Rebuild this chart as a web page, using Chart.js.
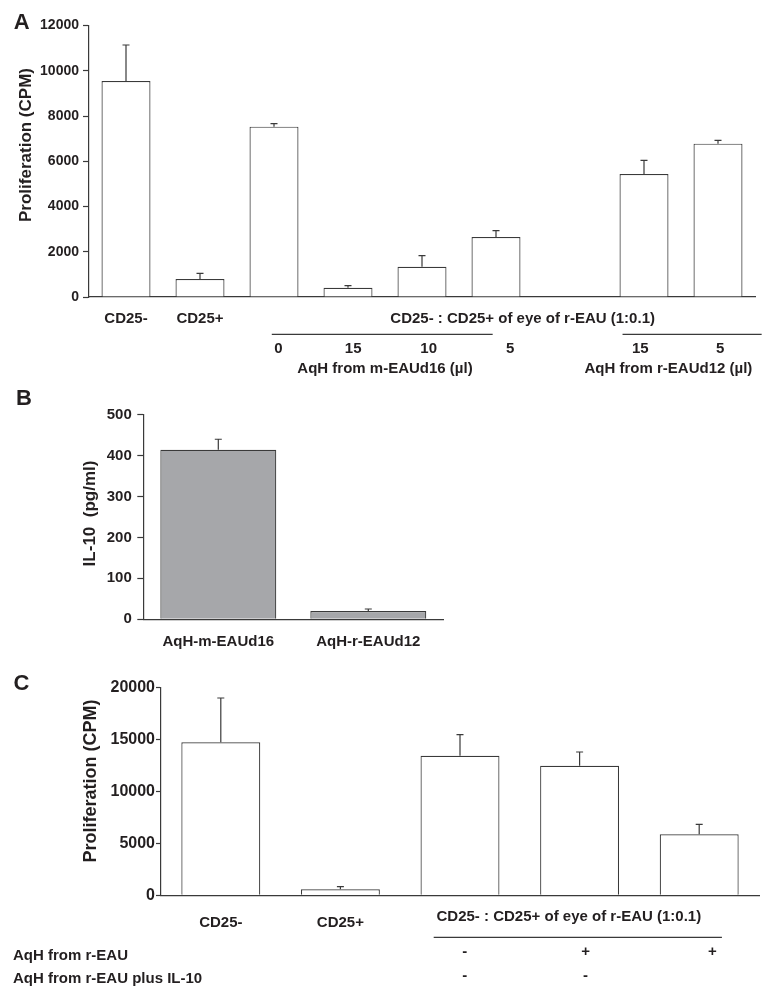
<!DOCTYPE html>
<html>
<head>
<meta charset="utf-8">
<script src="https://cdn.jsdelivr.net/npm/chart.js@4.4.1/dist/chart.umd.min.js"></script>
<style>
  html, body { margin: 0; padding: 0; background: #fff; }
  canvas { position: absolute; left: 0; }
</style>
</head>
<body>
<canvas id="chartA" width="778" height="385" style="top:0"></canvas>
<canvas id="chartB" width="778" height="275" style="top:385px"></canvas>
<canvas id="chartC" width="778" height="338" style="top:660px"></canvas>
<script>
// ---- data: panel A (proliferation, CPM) ----
const categoriesA = ['CD25-', 'CD25+', '0', '15', '10', '5', '', '15', '5'];
const valuesA = [9549, 796, 7529, 411, 1340, 2653, null, 5438, 6777];
const errorsA = [1590, 250, 130, 90, 485, 280, null, 605, 150];
const ticksA = [0, 2000, 4000, 6000, 8000, 10000, 12000];

// ---- data: panel B (IL-10, pg/ml) ----
const categoriesB = ['AqH-m-EAUd16', 'AqH-r-EAUd12'];
const valuesB = [414, 20];
const errorsB = [26, 5];
const ticksB = [0, 100, 200, 300, 400, 500];

// ---- data: panel C (proliferation, CPM) ----
const categoriesC = ['CD25-', 'CD25+', '', '', ''];
const valuesC = [14740, 578, 13449, 12486, 5877];
const errorsC = [4267, 252, 2023, 1319, 963];
const aqhRowC = ['', '', '-', '+', '+'];
const il10RowC = ['', '', '-', '-', ''];
const ticksC = [0, 5000, 10000, 15000, 20000];

const FONT = "'Liberation Sans', Arial, sans-serif";
const INK = '#231f20';
const EDGE = '#3a3a3a';

// draws the upper half of each error bar with a small cap
const errorBars = {
  id: 'errorBars',
  afterDatasetsDraw(chart) {
    const ctx = chart.ctx;
    const y = chart.scales.y;
    chart.data.datasets.forEach((ds, di) => {
      chart.getDatasetMeta(di).data.forEach((bar, i) => {
        const v = ds.data[i];
        const e = ds.errors ? ds.errors[i] : null;
        if (v == null || !e) return;
        const top = y.getPixelForValue(v + e);
        ctx.save();
        ctx.strokeStyle = EDGE;
        ctx.lineWidth = 1.2;
        ctx.beginPath();
        ctx.moveTo(bar.x, bar.y);
        ctx.lineTo(bar.x, top);
        ctx.moveTo(bar.x - 3.5, top);
        ctx.lineTo(bar.x + 3.5, top);
        ctx.stroke();
        ctx.restore();
      });
    });
  }
};

// free text and rules; 'at' is a category position, dy is distance below the x axis
function textLayer(items) {
  return {
    id: 'textLayer',
    afterDraw(chart) {
      const ctx = chart.ctx;
      const x = chart.scales.x;
      const base = chart.chartArea.bottom;
      ctx.save();
      ctx.fillStyle = INK;
      ctx.strokeStyle = EDGE;
      items.forEach(it => {
        const yy = it.dy !== undefined ? base + it.dy : it.py;
        if (it.line) {
          ctx.lineWidth = 1.2;
          ctx.beginPath();
          ctx.moveTo(x.getPixelForValue(it.line[0]), yy);
          ctx.lineTo(x.getPixelForValue(it.line[1]), yy);
          ctx.stroke();
          return;
        }
        const xx = it.at !== undefined ? x.getPixelForValue(it.at) : it.px;
        ctx.font = 'bold ' + (it.size || 15) + 'px ' + FONT;
        ctx.textAlign = it.align || 'center';
        ctx.textBaseline = 'middle';
        if (it.rotate) {
          ctx.save();
          ctx.translate(xx, yy);
          ctx.rotate(-Math.PI / 2);
          ctx.fillText(it.text, 0, 0);
          ctx.restore();
        } else {
          ctx.fillText(it.text, xx, yy);
        }
      });
      ctx.restore();
    }
  };
}

function makeChart(id, p) {
  return new Chart(document.getElementById(id), {
    type: 'bar',
    data: {
      labels: p.labels,
      datasets: [{
        data: p.values,
        errors: p.errors,
        backgroundColor: p.fill,
        borderColor: EDGE,
        borderWidth: 1.2,
        categoryPercentage: 1,
        barPercentage: p.barPct
      }]
    },
    plugins: [errorBars, textLayer(p.notes)],
    options: {
      responsive: false,
      animation: false,
      layout: { padding: p.padding },
      plugins: {
        legend: { display: false },
        tooltip: { enabled: false }
      },
      scales: {
        x: {
          afterFit: s => { s.height = p.xHeight; },
          grid: { display: false, drawTicks: false },
          border: { display: true, color: EDGE, width: 1.2 },
          ticks: {
            color: INK,
            autoSkip: false,
            maxRotation: 0,
            padding: p.xPad,
            font: { family: FONT, size: 15, weight: 'bold' },
            callback: (v, i) => p.tickText[i]
          }
        },
        y: {
          min: 0,
          max: p.yTicks[p.yTicks.length - 1],
          afterBuildTicks: s => { s.ticks = p.yTicks.map(v => ({ value: v })); },
          afterFit: s => { s.width = p.yWidth; },
          grid: { display: true, drawOnChartArea: false, drawTicks: true, tickLength: p.tickLen, color: EDGE, tickColor: EDGE, tickWidth: 1.2 },
          border: { display: true, color: EDGE, width: 1.2 },
          ticks: {
            color: INK,
            padding: p.yPad,
            font: { family: FONT, size: p.yFont, weight: 'bold' },
            callback: v => String(v)
          }
        }
      }
    }
  });
}

// ---- panel A ----
const doseAtA = [null, null, 2.06, 3.07, 4.09, 5.19, null, 6.95, 8.03];
const notesA = [
  { text: 'A', px: 21.7, py: 22.5, size: 22 },
  { text: 'Proliferation (CPM)', px: 26, py: 145, size: 17, rotate: true },
  { text: 'CD25- : CD25+ of eye of r-EAU (1:0.1)', at: 5.36, dy: 21.5 },
  { line: [1.97, 4.955], dy: 37.3 },
  { line: [6.71, 8.59], dy: 37.3 },
  { text: 'AqH from m-EAUd16 (\u00b5l)', at: 3.5, dy: 71.7 },
  { text: 'AqH from r-EAUd12 (\u00b5l)', at: 7.33, dy: 71.7 }
];
categoriesA.forEach((c, i) => {
  if (doseAtA[i] !== null && c) notesA.push({ text: c, at: doseAtA[i], dy: 51.5 });
});

makeChart('chartA', {
  labels: categoriesA,
  values: valuesA,
  errors: errorsA,
  fill: '#ffffff',
  barPct: 0.662,
  padding: { top: 25.5, left: 0, right: 23, bottom: 43 },
  xHeight: 45,
  tickText: categoriesA.map((c, i) => i < 2 ? c : ''),
  xPad: 12.5,
  yTicks: ticksA,
  yWidth: 89,
  yFont: 14,
  tickLen: 6,
  yPad: 4,
  notes: notesA
});

// ---- panel B ----
makeChart('chartB', {
  labels: categoriesB,
  values: valuesB,
  errors: errorsB,
  fill: '#a6a7aa',
  barPct: 0.773,
  padding: { top: 29.7, left: 0, right: 334.7, bottom: 0 },
  xHeight: 40.8,
  tickText: categoriesB,
  xPad: 13.8,
  yTicks: ticksB,
  yWidth: 143.3,
  yFont: 15,
  tickLen: 6,
  yPad: 5.5,
  notes: [
    { text: 'B', px: 24, py: 13.5, size: 22 },
    { text: 'IL-10  (pg/ml)', px: 90, py: 128.5, size: 17, rotate: true }
  ]
});

// ---- panel C ----
const symAtC = [null, null, 2.04, 3.05, 4.11];
const notesC = [
  { text: 'C', px: 21.5, py: 23.5, size: 22 },
  { text: 'Proliferation (CPM)', px: 91, py: 121, size: 18, rotate: true },
  { text: 'CD25- : CD25+ of eye of r-EAU (1:0.1)', at: 2.91, dy: 21.7 },
  { line: [1.78, 4.19], dy: 42 },
  { text: 'AqH from r-EAU', px: 13, py: 295.7, align: 'left' },
  { text: 'AqH from r-EAU plus IL-10', px: 13, py: 319, align: 'left' }
];
aqhRowC.forEach((s, i) => { if (s) notesC.push({ text: s, at: symAtC[i], dy: 56.2 }); });
il10RowC.forEach((s, i) => { if (s) notesC.push({ text: s, at: symAtC[i], dy: 80.2 }); });

makeChart('chartC', {
  labels: categoriesC,
  values: valuesC,
  errors: errorsC,
  fill: '#ffffff',
  barPct: 0.66,
  padding: { top: 27.7, left: 0, right: 19, bottom: 57.7 },
  xHeight: 45,
  tickText: categoriesC,
  xPad: 18.5,
  yTicks: ticksC,
  yWidth: 161,
  yFont: 16,
  tickLen: 5,
  yPad: 1,
  notes: notesC
});
</script>
</body>
</html>
